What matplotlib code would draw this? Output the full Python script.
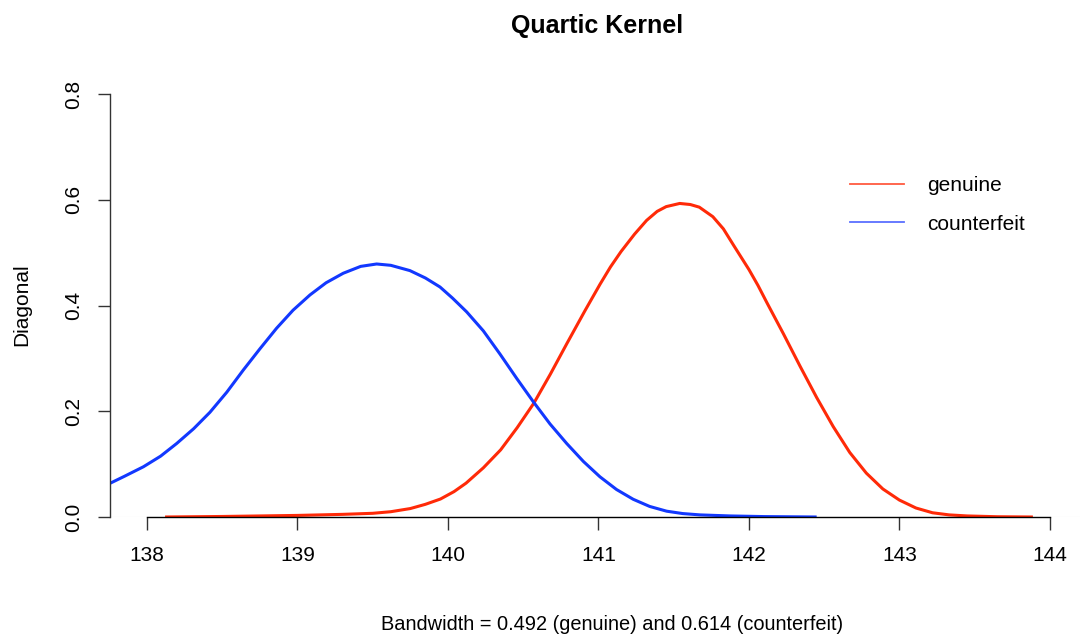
import matplotlib
matplotlib.use('Agg')
import matplotlib.pyplot as plt

# density curves (x = Diagonal, d = density)
genuine_x = [138.12, 138.5, 139.0, 139.3, 139.5, 139.62, 139.75, 139.85, 139.95, 140.04,
             140.12, 140.235, 140.35, 140.46, 140.57, 140.68, 140.79, 140.91, 141.01,
             141.08, 141.15, 141.24, 141.32, 141.39, 141.45, 141.54, 141.61, 141.67,
             141.76, 141.83, 141.9, 142.0, 142.06, 142.12, 142.23, 142.34, 142.45,
             142.56, 142.67, 142.78, 142.89, 143.0, 143.11, 143.22, 143.33, 143.45,
             143.65, 143.887]
genuine_d = [0.0, 0.001, 0.003, 0.005, 0.007, 0.010, 0.016, 0.024, 0.034, 0.048,
             0.064, 0.093, 0.127, 0.169, 0.215, 0.270, 0.328, 0.39, 0.440,
             0.473, 0.502, 0.535, 0.561, 0.578, 0.587, 0.593, 0.591, 0.586,
             0.568, 0.545, 0.513, 0.468, 0.438, 0.405, 0.346, 0.285, 0.226,
             0.171, 0.122, 0.083, 0.053, 0.032, 0.017, 0.008, 0.004, 0.002,
             0.0005, 0.0]

counterfeit_x = [137.754, 137.85, 137.976, 138.09, 138.197, 138.31, 138.418, 138.53,
                 138.64, 138.75, 138.861, 138.97, 139.083, 139.19, 139.304, 139.42,
                 139.526, 139.62, 139.747, 139.85, 139.947, 140.03, 140.124, 140.235,
                 140.346, 140.457, 140.567, 140.678, 140.789, 140.9, 141.01, 141.12,
                 141.231, 141.34, 141.453, 141.56, 141.674, 141.874, 142.1, 142.45]
counterfeit_d = [0.0637, 0.077, 0.095, 0.115, 0.139, 0.167, 0.198, 0.236,
                 0.278, 0.318, 0.357, 0.391, 0.420, 0.443, 0.461, 0.474,
                 0.4785, 0.476, 0.466, 0.452, 0.435, 0.414, 0.388, 0.352,
                 0.308, 0.262, 0.218, 0.176, 0.139, 0.105, 0.076, 0.052,
                 0.0335, 0.020, 0.011, 0.0065, 0.004, 0.002, 0.0008, 0.0]

x_ticks = [138, 139, 140, 141, 142, 143, 144]
y_ticks = [0.0, 0.2, 0.4, 0.6, 0.8]

red = '#ff2a08'
blue = '#1238ff'

plt.rcParams['font.family'] = ['Liberation Sans', 'DejaVu Sans']

W, H = 1081, 636
fig = plt.figure(figsize=(W / 100, H / 100), dpi=100)
ax = fig.add_axes([110 / W, 1 - 517 / H, (1080 - 110) / W, (517 - 94) / H])

ax.axhline(0, color='#e6e6e6', lw=0.8, zorder=0)
ax.plot(genuine_x, genuine_d, color=red, lw=2.2, solid_capstyle='butt',
        solid_joinstyle='round')
ax.plot(counterfeit_x, counterfeit_d, color=blue, lw=2.2, solid_capstyle='butt',
        solid_joinstyle='round')

ax.set_xlim(137.754, 144.2)
ax.set_ylim(0, 0.8)
ax.set_xticks(x_ticks)
ax.set_yticks(y_ticks)
ax.set_xticklabels([str(t) for t in x_ticks])
ax.set_yticklabels(['%.1f' % t for t in y_ticks])

for s in ['top', 'right']:
    ax.spines[s].set_visible(False)
ax.spines['bottom'].set_bounds(138, 144)
ax.spines['left'].set_bounds(0, 0.8)
ax.spines['bottom'].set_linewidth(1.0)
ax.spines['left'].set_linewidth(1.0)
ax.spines['left'].set_color('#333333')
ax.tick_params(axis='both', length=9, width=1.0, labelsize=15, color='#333333')
ax.tick_params(axis='x', pad=12)
ax.tick_params(axis='y', pad=10, labelrotation=90)
for lab in ax.get_yticklabels():
    lab.set_va('center')

leg_lines = [plt.Line2D([], [], color='#ff5a40', lw=1.3),
             plt.Line2D([], [], color='#5a70ff', lw=1.3)]
ax.legend(leg_lines, ['genuine', 'counterfeit'], loc='upper left', frameon=False,
          fontsize=15, bbox_to_anchor=(850 / W, 1 - 176 / H),
          bbox_transform=fig.transFigure, borderpad=0, borderaxespad=0,
          handlelength=2.6, handletextpad=1.1, labelspacing=0.95)

fig.text(597 / W, 1 - 26 / H, 'Quartic Kernel', ha='center', va='center',
         fontsize=18, fontweight='bold')
fig.text(612 / W, 1 - 625 / H, 'Bandwidth = 0.492 (genuine) and 0.614 (counterfeit)',
         ha='center', va='center', fontsize=14.4)
fig.text(22 / W, 1 - 305 / H, 'Diagonal', ha='center', va='center',
         rotation=90, fontsize=15)

fig.savefig('out.png', dpi=100)
